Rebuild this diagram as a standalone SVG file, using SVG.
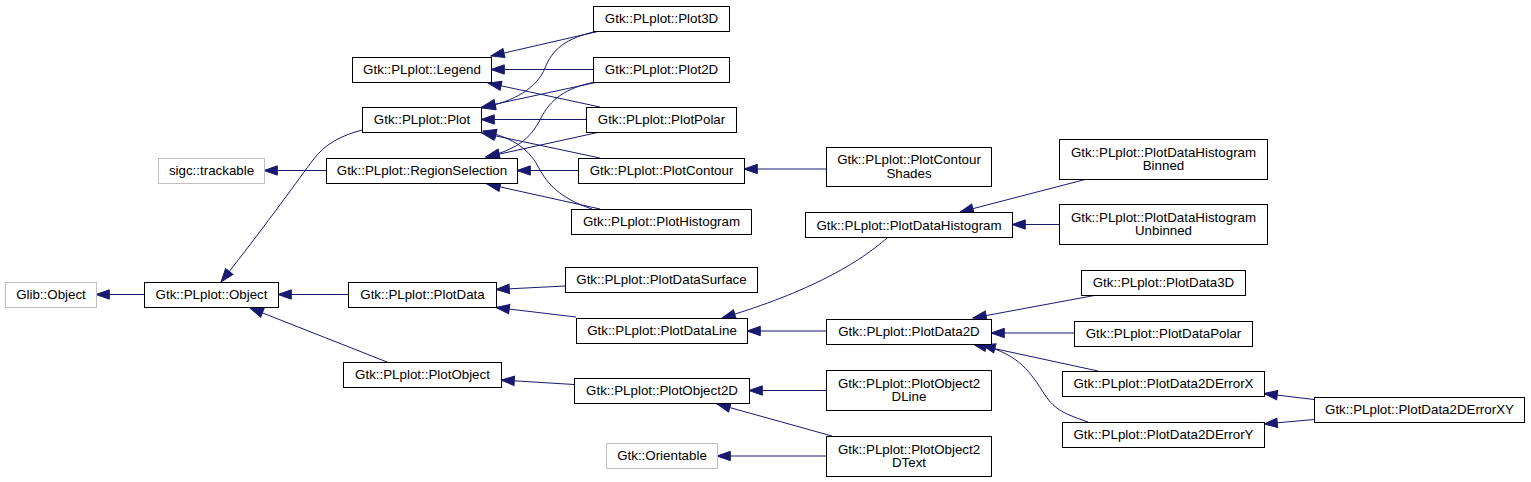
<svg xmlns="http://www.w3.org/2000/svg" width="1531" height="482" viewBox="0 0 1531 482">
<style>
.n rect{fill:#fff;stroke:#000;stroke-width:1}
.g rect{fill:#fff;stroke:#bfbfbf;stroke-width:1}
text{font-family:"Liberation Sans",Arial,sans-serif;font-size:13.33px;fill:#000;text-anchor:middle}
.e path{fill:none;stroke:#191970;stroke-width:1;marker-end:url(#arr)}
</style>
<defs>
<marker id="arr" markerUnits="userSpaceOnUse" markerWidth="16" markerHeight="12" refX="13.3" refY="4.65" orient="auto" overflow="visible">
<path d="M0,0 L13.3,4.65 L0,9.3 z" fill="#191970" stroke="#191970" stroke-width="1"/>
</marker>
</defs>
<rect width="1531" height="482" fill="#fff"/>
<g class="e" id="edges">
<path d="M144,294.5 L96,294.5"/>
<path d="M362,130 C340,136 325,144 313,160 C300,177 270,220 221,282"/>
<path d="M348,294.5 L278,294.5"/>
<path d="M387,362 L250,308"/>
<path d="M326,170.5 L264,170.5"/>
<path d="M600,31 L491,56"/>
<path d="M593,69.5 L491,69.5"/>
<path d="M600,107 L488,83"/>
<path d="M598,31 C565,38 552,50 545,68 C537,88 515,101 482,108"/>
<path d="M598,82 L482,107"/>
<path d="M586,119.5 L481,119.5"/>
<path d="M600,158 L482,133"/>
<path d="M592,209 C565,200 550,188 540,170 C530,150 515,138 483,131"/>
<path d="M595,82 C565,88 550,100 541,118 C530,140 515,150 486,157"/>
<path d="M600,132 L486,157"/>
<path d="M578,170.5 L517,170.5"/>
<path d="M600,209 L487,184"/>
<path d="M826,169 L744,169"/>
<path d="M565,286 L496,289.5"/>
<path d="M576,317 L496,307.5"/>
<path d="M826,331 L747,331"/>
<path d="M887,238 C860,262 810,292 722,318"/>
<path d="M1087,179 L960,212"/>
<path d="M1059,224.5 L1012,224.5"/>
<path d="M1097,295 L973,318"/>
<path d="M1074,333 L991,333"/>
<path d="M1098,371 L973,344"/>
<path d="M1088,422 C1065,414 1055,410 1045,395 C1030,372 1020,355 982,345"/>
<path d="M1314,399.5 L1264,393.5"/>
<path d="M1314,419.5 L1264,424"/>
<path d="M574,384.5 L501,380"/>
<path d="M826,390.5 L749,390.5"/>
<path d="M832,436 L717,404"/>
<path d="M826,456 L717,456"/>
</g>
<g id="glib_object" class="g"><rect x="5.5" y="282.5" width="91" height="25"/><text x="51" y="299">Glib::Object</text></g>
<g id="object" class="n"><rect x="144.5" y="282.5" width="134" height="25"/><text x="211.5" y="299">Gtk::PLplot::Object</text></g>
<g id="trackable" class="g"><rect x="158.5" y="158.5" width="106" height="25"/><text x="211.5" y="175">sigc::trackable</text></g>
<g id="legend" class="n"><rect x="352.5" y="57.5" width="139" height="25"/><text x="422" y="74">Gtk::PLplot::Legend</text></g>
<g id="plot" class="n"><rect x="362.5" y="107.5" width="119" height="25"/><text x="422" y="124">Gtk::PLplot::Plot</text></g>
<g id="regionselection" class="n"><rect x="326.5" y="158.5" width="191" height="25"/><text x="422" y="175">Gtk::PLplot::RegionSelection</text></g>
<g id="plotdata" class="n"><rect x="348.5" y="282.5" width="148" height="25"/><text x="422.5" y="299">Gtk::PLplot::PlotData</text></g>
<g id="plotobject" class="n"><rect x="343.5" y="362.5" width="158" height="25"/><text x="422.5" y="379">Gtk::PLplot::PlotObject</text></g>
<g id="plot3d" class="n"><rect x="593.5" y="6.5" width="136" height="25"/><text x="661.5" y="23">Gtk::PLplot::Plot3D</text></g>
<g id="plot2d" class="n"><rect x="593.5" y="57.5" width="136" height="25"/><text x="661.5" y="74">Gtk::PLplot::Plot2D</text></g>
<g id="plotpolar" class="n"><rect x="586.5" y="107.5" width="150" height="25"/><text x="661.5" y="124">Gtk::PLplot::PlotPolar</text></g>
<g id="plotcontour" class="n"><rect x="578.5" y="158.5" width="166" height="25"/><text x="661.5" y="175">Gtk::PLplot::PlotContour</text></g>
<g id="plothistogram" class="n"><rect x="571.5" y="209.5" width="180" height="25"/><text x="661.5" y="226">Gtk::PLplot::PlotHistogram</text></g>
<g id="plotdatasurface" class="n"><rect x="565.5" y="267.5" width="192" height="25"/><text x="661.5" y="284">Gtk::PLplot::PlotDataSurface</text></g>
<g id="plotdataline" class="n"><rect x="576.5" y="318.5" width="171" height="25"/><text x="662" y="335">Gtk::PLplot::PlotDataLine</text></g>
<g id="plotobject2d" class="n"><rect x="574.5" y="378.5" width="175" height="25"/><text x="662" y="395">Gtk::PLplot::PlotObject2D</text></g>
<g id="orientable" class="g"><rect x="606.5" y="443.5" width="111" height="25"/><text x="662" y="460">Gtk::Orientable</text></g>
<g id="plotcontourshades" class="n"><rect x="826.5" y="147.5" width="165" height="39"/><text x="909" y="164">Gtk::PLplot::PlotContour</text><text x="909" y="177.5">Shades</text></g>
<g id="plotdatahistogram" class="n"><rect x="805.5" y="212.5" width="207" height="25"/><text x="909" y="229.5">Gtk::PLplot::PlotDataHistogram</text></g>
<g id="plotdata2d" class="n"><rect x="826.5" y="319.5" width="165" height="25"/><text x="909" y="336">Gtk::PLplot::PlotData2D</text></g>
<g id="plotobject2dline" class="n"><rect x="826.5" y="370.5" width="165" height="40"/><text x="909" y="387.5">Gtk::PLplot::PlotObject2</text><text x="909" y="401">DLine</text></g>
<g id="plotobject2dtext" class="n"><rect x="826.5" y="436.5" width="165" height="40"/><text x="909" y="453.5">Gtk::PLplot::PlotObject2</text><text x="909" y="467">DText</text></g>
<g id="binned" class="n"><rect x="1059.5" y="139.5" width="208" height="40"/><text x="1163.5" y="156.5">Gtk::PLplot::PlotDataHistogram</text><text x="1163.5" y="170">Binned</text></g>
<g id="unbinned" class="n"><rect x="1059.5" y="204.5" width="208" height="40"/><text x="1163.5" y="221.5">Gtk::PLplot::PlotDataHistogram</text><text x="1163.5" y="235">Unbinned</text></g>
<g id="plotdata3d" class="n"><rect x="1081.5" y="270.5" width="164" height="25"/><text x="1163.5" y="287">Gtk::PLplot::PlotData3D</text></g>
<g id="plotdatapolar" class="n"><rect x="1074.5" y="321.5" width="178" height="25"/><text x="1163.5" y="338">Gtk::PLplot::PlotDataPolar</text></g>
<g id="errorx" class="n"><rect x="1062.5" y="371.5" width="202" height="25"/><text x="1163.5" y="388">Gtk::PLplot::PlotData2DErrorX</text></g>
<g id="errory" class="n"><rect x="1062.5" y="422.5" width="202" height="25"/><text x="1163.5" y="439">Gtk::PLplot::PlotData2DErrorY</text></g>
<g id="errorxy" class="n"><rect x="1314.5" y="397.5" width="210" height="25"/><text x="1419.5" y="414">Gtk::PLplot::PlotData2DErrorXY</text></g>
</svg>
